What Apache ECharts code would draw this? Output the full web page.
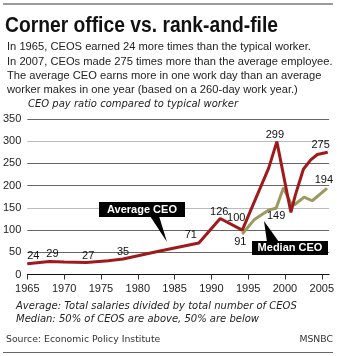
<!DOCTYPE html>
<html>
<head>
<meta charset="utf-8">
<script src="https://cdn.jsdelivr.net/npm/echarts@6/dist/echarts.min.js"></script>
<style>
html,body{margin:0;padding:0;background:#fff;}
#c{width:337px;height:356px;}
</style>
</head>
<body>
<div id="c"></div>
<script>
// ---- data ----
var avgYears = [1965, 1968, 1970, 1973, 1976, 1978, 1983, 1988.3, 1991.2, 1994.2, 1997.8, 1998.9, 2000.8, 2001.4, 2002.5, 2003.5, 2004.4, 2005.8];
var avgValues = [24, 29, 28, 27, 31, 35, 53, 71, 126, 100, 240, 299, 140, 178, 237, 258, 270, 275];
var medYears = [1994.2, 1995.8, 1997.8, 1998.8, 1999.8, 2000.8, 2001.3, 2002.6, 2003.7, 2005.7];
var medValues = [91, 123, 145, 149, 195, 160, 157, 174, 166, 194];
var xTickLabels = [1965, 1970, 1975, 1980, 1985, 1990, 1995, 2000, 2005];
var avgLabeled = [1965, 1968, 1973, 1978, 1988.3, 1991.2, 1994.2, 1998.9, 2005.8];
var medLabeled = [1994.2, 1998.8, 2005.7];

var titleText = 'Corner office vs. rank-and-file';
var bodyLines = [
  'In 1965, CEOS earned 24 more times than the typical worker.',
  'In 2007, CEOs made 275 times more than the average employee.',
  'The average CEO earns more in one work day than an average',
  'worker makes in one year (based on a 260-day work year.)'
];
var subtitleText = 'CEO pay ratio compared to typical worker';
var noteLines = [
  'Average: Total salaries divided by total number of CEOS',
  'Median: 50% of CEOS are above, 50% are below'
];
var sourceText = 'Source: Economic Policy Institute';
var creditText = 'MSNBC';

// label placement (style, kept separate from data)
var avgLabelOffsets = {
  1965: [6, -8], 1968: [3, -8], 1973: [2, -7], 1978: [0, -7],
  1988.3: [-8, -8], 1991.2: [-1, -7], 1994.2: [-6, -12], 1998.9: [-2, -7], 2005.8: [-7, -7]
};
var medLabelOffsets = { 1994.2: [-2, 8], 1998.8: [0, 8], 2005.7: [-3, -8] };

function buildData(years, values, labeled, offsets) {
  return years.map(function (y, i) {
    var item = { value: [y, values[i]] };
    if (labeled.indexOf(y) >= 0) {
      item.label = { show: true, position: 'inside', offset: offsets[y] };
    }
    return item;
  });
}

var mctx = document.createElement('canvas').getContext('2d');
function measure(font, text) { mctx.font = font; return mctx.measureText(text).width; }

var TITLE_FONT = 'bold 22px "Liberation Sans", Arial, sans-serif';
var titleScale = 273 / measure(TITLE_FONT, titleText);
var BODY_FAMILY = '"Liberation Sans", Arial, sans-serif';
var bodySize = 11.5 * 326 / measure('11.5px ' + BODY_FAMILY, bodyLines[1]);
var BODY_FONT = bodySize.toFixed(2) + 'px ' + BODY_FAMILY;

var RED = '#9e1a1c';
var GREEN = '#9c9a5e';
var labelStyle = { color: '#111', fontFamily: 'Liberation Sans, Arial, sans-serif', fontSize: 11,
  formatter: function (p) { return p.value[1]; } };

var graphics = [
  { type: 'rect', shape: { x: 3, y: 3, width: 330, height: 2 }, style: { fill: '#9a9a9a' } },
  { type: 'text', x: 5, y: 26, scaleX: titleScale, style: { text: titleText, fill: '#111',
    font: TITLE_FONT, textVerticalAlign: 'middle' } }
];
var bodyY = [47, 61.5, 76, 90];
bodyLines.forEach(function (t, i) {
  graphics.push({ type: 'text', x: 7, y: bodyY[i], style: { text: t, fill: '#222', font: BODY_FONT,
    textVerticalAlign: 'middle' } });
});
graphics.push({ type: 'text', x: 28, y: 104, style: { text: subtitleText,
  fill: '#222', font: 'italic 10px "DejaVu Sans", Verdana, sans-serif', textVerticalAlign: 'middle' } });
// callouts
graphics.push(
  { type: 'polygon', shape: { points: [[150, 216], [159, 216], [167, 242]] }, style: { fill: '#000' }, z: 10 },
  { type: 'rect', shape: { x: 99, y: 202, width: 86, height: 15 }, style: { fill: '#000' }, z: 10 },
  { type: 'text', x: 142, y: 209.5, z: 11, style: { text: 'Average CEO', fill: '#fff',
    font: 'bold 11px "Liberation Sans", Arial, sans-serif', textAlign: 'center', textVerticalAlign: 'middle' } },
  { type: 'polygon', shape: { points: [[267, 242], [279, 242], [264, 221]] }, style: { fill: '#000' }, z: 10 },
  { type: 'rect', shape: { x: 252, y: 241, width: 76, height: 14 }, style: { fill: '#000' }, z: 10 },
  { type: 'text', x: 290, y: 248, z: 11, style: { text: 'Median CEO', fill: '#fff',
    font: 'bold 11px "Liberation Sans", Arial, sans-serif', textAlign: 'center', textVerticalAlign: 'middle' } }
);
var noteY = [306, 319];
noteLines.forEach(function (t, i) {
  graphics.push({ type: 'text', x: 16, y: noteY[i], style: { text: t,
    fill: '#222', font: 'italic 10px "DejaVu Sans", Verdana, sans-serif', textVerticalAlign: 'middle' } });
});
graphics.push(
  { type: 'text', x: 6, y: 340, style: { text: sourceText,
    fill: '#333', font: '9.3px "DejaVu Sans", Verdana, sans-serif', textVerticalAlign: 'middle' } },
  { type: 'text', x: 333, y: 340, style: { text: creditText, textAlign: 'right',
    fill: '#333', font: '9.3px "DejaVu Sans", Verdana, sans-serif', textVerticalAlign: 'middle' } },
  { type: 'rect', shape: { x: 3, y: 352, width: 330, height: 1 }, style: { fill: '#666' } }
);

var chart = echarts.init(document.getElementById('c'), null, { renderer: 'canvas' });
chart.setOption({
  animation: false,
  backgroundColor: '#fff',
  grid: { left: 27.3, right: 7, top: 119, bottom: 81.5, containLabel: false },
  xAxis: {
    type: 'value', min: 1965, max: 2006,
    axisLine: { show: true, lineStyle: { color: '#111', width: 1 } },
    axisTick: { show: true, length: 5, customValues: xTickLabels, lineStyle: { color: '#333' } },
    axisLabel: { customValues: xTickLabels, margin: 9, color: '#222', fontSize: 11,
      fontFamily: 'Liberation Sans, Arial, sans-serif',
      formatter: function (v) { return String(v); } },
    splitLine: { show: false }
  },
  yAxis: {
    type: 'value', min: 0, max: 350, interval: 50,
    axisLine: { show: false }, axisTick: { show: false },
    axisLabel: { margin: 6, color: '#222', fontSize: 11, fontFamily: 'Liberation Sans, Arial, sans-serif' },
    splitLine: { show: true, lineStyle: { width: 1,
      color: ['#111', '#666', '#666', '#bbb', '#666', '#666', '#bbb', '#666'] } }
  },
  series: [
    {
      type: 'line', name: 'Average CEO',
      data: buildData(avgYears, avgValues, avgLabeled, avgLabelOffsets),
      symbol: 'circle', symbolSize: 1, showSymbol: true,
      itemStyle: { color: RED },
      lineStyle: { color: RED, width: 3 },
      label: labelStyle,
      z: 3
    },
    {
      type: 'line', name: 'Median CEO',
      data: buildData(medYears, medValues, medLabeled, medLabelOffsets),
      symbol: 'circle', symbolSize: 1, showSymbol: true,
      itemStyle: { color: GREEN },
      lineStyle: { color: GREEN, width: 3 },
      label: labelStyle,
      z: 2
    }
  ],
  graphic: graphics
});
</script>
</body>
</html>
